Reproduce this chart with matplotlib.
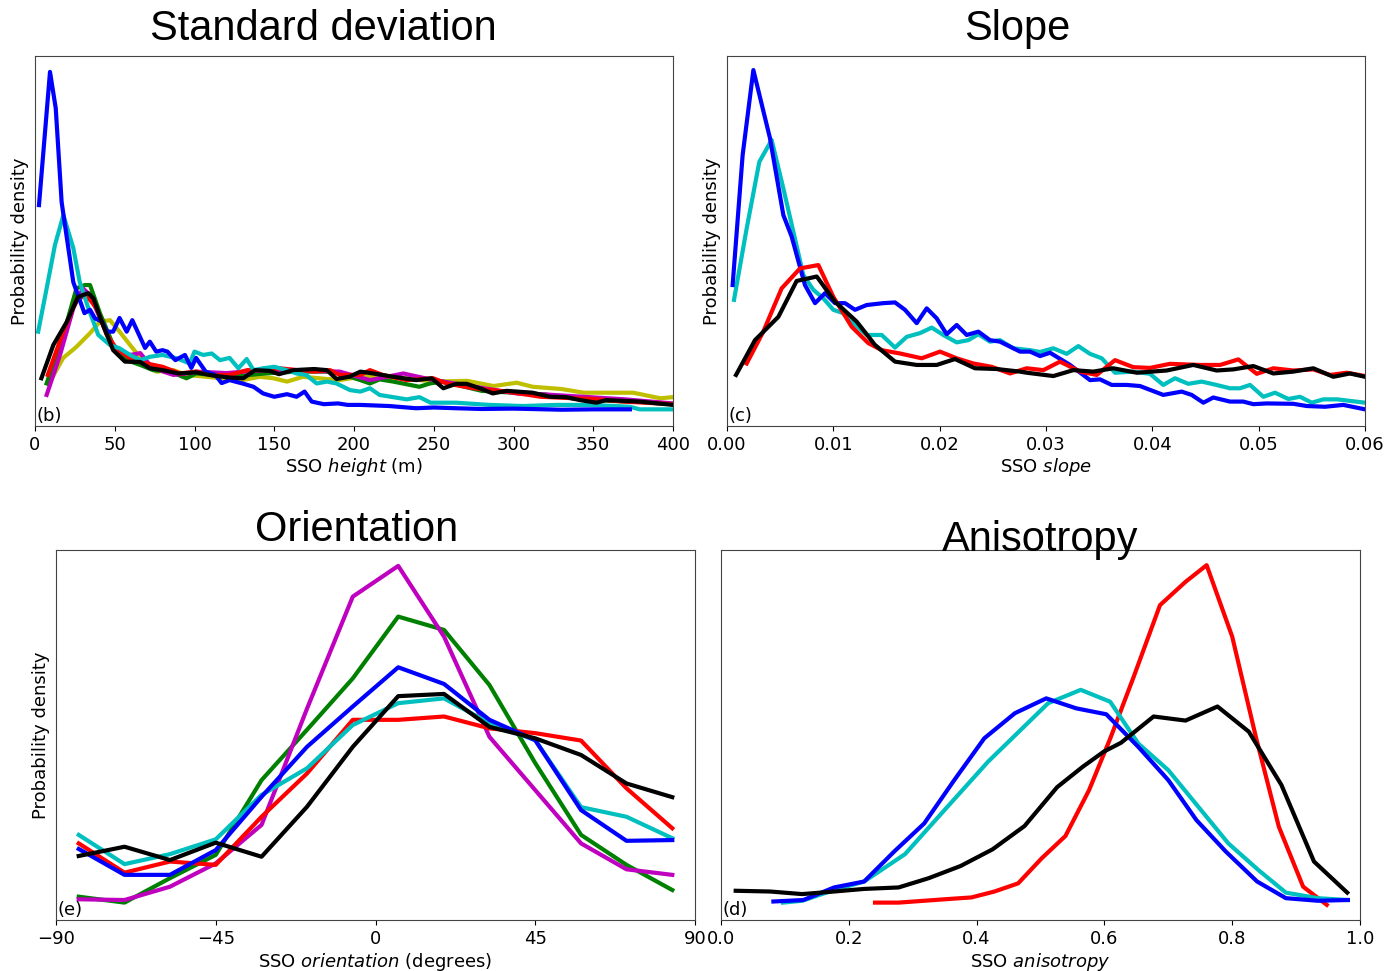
import matplotlib
matplotlib.use("Agg")
import matplotlib.pyplot as plt

# ---------------- Panel (b): Standard deviation ----------------
b_blue_x = [2.5, 9.4, 13, 16.7, 24, 31, 34.5, 37.6, 42, 45, 49, 53, 57.5, 61, 69, 72, 76, 80, 83, 88, 94, 98, 101,
            107, 113, 117, 122, 130, 137, 143, 150, 158, 164, 169, 173.5, 181, 190, 196, 204, 222, 239, 250, 264,
            280, 300, 330, 350, 373]
b_blue_y = [0.597, 0.957, 0.859, 0.605, 0.389, 0.305, 0.314, 0.291, 0.282, 0.255, 0.255, 0.292, 0.255, 0.286,
            0.211, 0.228, 0.201, 0.205, 0.201, 0.178, 0.192, 0.157, 0.184, 0.147, 0.138, 0.116, 0.124, 0.115,
            0.106, 0.088, 0.079, 0.086, 0.079, 0.093, 0.066, 0.059, 0.061, 0.057, 0.057, 0.054, 0.048, 0.050,
            0.048, 0.046, 0.047, 0.044, 0.045, 0.045]

b_cyan_x = [2, 7.3, 12.5, 17.8, 24, 28, 33.4, 39.7, 47, 53, 59.6, 66, 72, 80, 88.8, 97, 100, 105.5, 110.8, 116,
            122, 127.5, 132.7, 137, 143, 150, 157.8, 164, 170, 176.6, 183, 189, 197.5, 204, 210, 216, 233, 241,
            248, 264, 285, 306, 327, 348, 373, 379, 400]
b_cyan_y = [0.255, 0.372, 0.489, 0.570, 0.481, 0.390, 0.319, 0.246, 0.219, 0.210, 0.192, 0.178, 0.187, 0.192,
            0.183, 0.169, 0.201, 0.192, 0.196, 0.178, 0.184, 0.156, 0.181, 0.151, 0.156, 0.160, 0.151, 0.142,
            0.138, 0.115, 0.120, 0.115, 0.097, 0.093, 0.102, 0.084, 0.072, 0.078, 0.063, 0.063, 0.057, 0.054,
            0.057, 0.057, 0.052, 0.045, 0.045]

b_green_x = [7.3, 17.7, 26, 31.3, 34.5, 40.7, 49, 57.5, 66, 74, 84.6, 95, 101, 112, 123, 144, 164, 185, 191, 204,
             210, 216, 224.6, 241, 247.6, 256, 280, 300, 320, 340, 360, 380, 400]
b_green_y = [0.115, 0.246, 0.372, 0.381, 0.381, 0.305, 0.219, 0.178, 0.165, 0.151, 0.147, 0.129, 0.142, 0.138,
             0.133, 0.142, 0.147, 0.147, 0.142, 0.124, 0.115, 0.126, 0.120, 0.106, 0.115, 0.120, 0.095, 0.090,
             0.085, 0.073, 0.068, 0.065, 0.059]

b_magenta_x = [7.3, 15.7, 24, 30, 34.5, 40.7, 49, 59.6, 66, 72, 80.4, 86.8, 95, 101, 120, 140, 160, 180, 191,
               210, 231, 235, 250, 270, 302, 317, 340, 370, 400]
b_magenta_y = [0.084, 0.192, 0.318, 0.372, 0.354, 0.292, 0.211, 0.192, 0.197, 0.165, 0.147, 0.138, 0.142, 0.147,
               0.143, 0.150, 0.152, 0.148, 0.147, 0.124, 0.142, 0.138, 0.124, 0.110, 0.088, 0.086, 0.080, 0.072,
               0.061]

b_red_x = [8, 17.7, 26, 32, 38.7, 45, 51, 59.6, 70, 80, 91, 101, 112, 122, 133, 143, 153.6, 164, 175, 185, 191,
           204, 210, 218, 233, 249.7, 258, 275, 295.7, 317, 337.5, 350, 369, 400]
b_red_y = [0.138, 0.255, 0.341, 0.354, 0.318, 0.246, 0.210, 0.183, 0.169, 0.160, 0.142, 0.147, 0.138, 0.138,
           0.151, 0.151, 0.156, 0.151, 0.147, 0.151, 0.138, 0.138, 0.151, 0.138, 0.124, 0.129, 0.115, 0.102,
           0.093, 0.079, 0.075, 0.073, 0.066, 0.059]

b_yellow_x = [9.4, 17.7, 26, 34.5, 40.7, 47, 53, 59.6, 68, 76, 86.7, 95, 107.6, 117, 130, 141, 149.5, 158, 168,
              178, 191, 204, 212, 230, 250, 271, 287.5, 302, 312, 330, 344, 375, 392, 400]
b_yellow_y = [0.120, 0.184, 0.214, 0.251, 0.282, 0.286, 0.255, 0.219, 0.174, 0.147, 0.151, 0.138, 0.133, 0.129,
              0.124, 0.133, 0.129, 0.120, 0.133, 0.129, 0.124, 0.133, 0.135, 0.130, 0.120, 0.122, 0.108, 0.117,
              0.106, 0.100, 0.090, 0.090, 0.075, 0.078]

b_black_x = [4, 11.5, 20, 27, 33.4, 36.6, 41.8, 49, 56.4, 66, 72, 80, 90, 101, 112, 122, 130.6, 138, 147, 153,
             162, 175, 183, 189, 197, 204, 212, 224.6, 239, 248.7, 256, 264, 270.6, 279, 287, 295.7, 312, 323,
             333, 341.7, 352, 358, 379, 400]
b_black_y = [0.129, 0.219, 0.282, 0.349, 0.359, 0.345, 0.282, 0.205, 0.174, 0.173, 0.156, 0.151, 0.142, 0.145,
             0.136, 0.131, 0.129, 0.151, 0.149, 0.140, 0.151, 0.154, 0.151, 0.127, 0.133, 0.147, 0.142, 0.133,
             0.124, 0.129, 0.102, 0.114, 0.114, 0.102, 0.088, 0.095, 0.090, 0.079, 0.078, 0.070, 0.063, 0.070,
             0.066, 0.057]

# ---------------- Panel (c): Slope ----------------
c_blue_x = [0.00053, 0.00147, 0.00248, 0.00404, 0.0053, 0.00608, 0.00733, 0.00828, 0.00922, 0.01016, 0.0111,
            0.01204, 0.01314, 0.0147, 0.0158, 0.01674, 0.01784, 0.01878, 0.01972, 0.02066, 0.0216, 0.02254,
            0.02364, 0.02473, 0.02567, 0.02756, 0.0285, 0.02944, 0.03038, 0.03226, 0.03414, 0.03508, 0.03618,
            0.03759, 0.03884, 0.04103, 0.04276, 0.0437, 0.0448, 0.04573, 0.0473, 0.04855, 0.0495, 0.05075,
            0.05326, 0.05452, 0.05624, 0.05796, 0.06]
c_blue_y = [0.381, 0.732, 0.962, 0.778, 0.570, 0.512, 0.381, 0.332, 0.359, 0.332, 0.332, 0.314, 0.327, 0.332,
            0.334, 0.314, 0.278, 0.318, 0.291, 0.248, 0.273, 0.246, 0.255, 0.232, 0.228, 0.201, 0.201, 0.189,
            0.198, 0.165, 0.124, 0.126, 0.111, 0.111, 0.108, 0.084, 0.093, 0.084, 0.063, 0.077, 0.066, 0.066,
            0.059, 0.061, 0.060, 0.054, 0.052, 0.057, 0.045]

c_cyan_x = [0.00066, 0.00185, 0.00304, 0.0042, 0.0053, 0.00624, 0.00718, 0.00812, 0.00906, 0.01, 0.01094,
            0.01188, 0.01314, 0.01455, 0.0158, 0.0169, 0.01815, 0.01925, 0.02034, 0.0216, 0.0227, 0.02364,
            0.02473, 0.02567, 0.02693, 0.0285, 0.02944, 0.03069, 0.03195, 0.03304, 0.03414, 0.03524, 0.03649,
            0.03821, 0.03978, 0.04103, 0.04213, 0.04338, 0.04464, 0.04573, 0.0473, 0.04824, 0.04919, 0.05044,
            0.05154, 0.05279, 0.05389, 0.05499, 0.05608, 0.0574, 0.06]
c_cyan_y = [0.341, 0.534, 0.714, 0.773, 0.642, 0.525, 0.408, 0.368, 0.345, 0.314, 0.305, 0.278, 0.246, 0.246,
            0.212, 0.241, 0.251, 0.266, 0.246, 0.226, 0.232, 0.248, 0.228, 0.232, 0.210, 0.205, 0.200, 0.210,
            0.195, 0.216, 0.195, 0.183, 0.144, 0.147, 0.141, 0.111, 0.129, 0.114, 0.120, 0.113, 0.102, 0.102,
            0.111, 0.079, 0.090, 0.073, 0.079, 0.063, 0.072, 0.072, 0.063]

c_red_x = [0.00185, 0.00341, 0.00514, 0.00687, 0.00859, 0.01, 0.01173, 0.01329, 0.01455, 0.01627, 0.01831,
           0.02003, 0.0216, 0.02316, 0.02489, 0.02662, 0.02818, 0.02975, 0.03132, 0.0332, 0.03477, 0.03649,
           0.03821, 0.03978, 0.04166, 0.04448, 0.04637, 0.04809, 0.04982, 0.05138, 0.05326, 0.05514, 0.05671,
           0.05828, 0.06]
c_red_y = [0.169, 0.255, 0.372, 0.426, 0.435, 0.349, 0.268, 0.224, 0.205, 0.196, 0.183, 0.201, 0.183, 0.169,
           0.160, 0.142, 0.156, 0.151, 0.174, 0.147, 0.138, 0.178, 0.159, 0.157, 0.168, 0.165, 0.165, 0.180,
           0.141, 0.156, 0.150, 0.153, 0.138, 0.144, 0.135]

c_black_x = [0.00085, 0.00263, 0.00483, 0.00655, 0.00844, 0.01016, 0.0122, 0.01392, 0.0158, 0.01784, 0.01972,
             0.02144, 0.02332, 0.02536, 0.02756, 0.02818, 0.03069, 0.03257, 0.03445, 0.03633, 0.03853, 0.04135,
             0.04385, 0.04605, 0.04762, 0.0495, 0.05138, 0.05326, 0.05514, 0.05702, 0.05859, 0.06]
c_black_y = [0.138, 0.232, 0.295, 0.392, 0.404, 0.336, 0.282, 0.219, 0.174, 0.165, 0.165, 0.181, 0.156, 0.154,
             0.147, 0.144, 0.135, 0.151, 0.147, 0.156, 0.144, 0.150, 0.165, 0.150, 0.153, 0.162, 0.142, 0.147,
             0.156, 0.133, 0.142, 0.133]

# ---------------- Panel (e): Orientation ----------------
e_x = [-83.6, -70.7, -57.9, -45.0, -32.1, -19.3, -6.4, 6.4, 19.3, 32.1, 45.0, 57.9, 70.7, 83.6]
e_magenta = [0.056, 0.054, 0.090, 0.153, 0.257, 0.571, 0.874, 0.957, 0.766, 0.495, 0.351, 0.207, 0.137, 0.122]
e_green = [0.063, 0.047, 0.113, 0.176, 0.378, 0.514, 0.653, 0.820, 0.784, 0.635, 0.424, 0.230, 0.149, 0.081]
e_blue = [0.192, 0.122, 0.122, 0.189, 0.333, 0.468, 0.577, 0.683, 0.638, 0.541, 0.486, 0.297, 0.214, 0.216]
e_cyan = [0.230, 0.151, 0.178, 0.218, 0.338, 0.410, 0.527, 0.586, 0.599, 0.532, 0.486, 0.305, 0.279, 0.221]
e_red = [0.207, 0.128, 0.158, 0.149, 0.279, 0.396, 0.541, 0.541, 0.550, 0.518, 0.505, 0.485, 0.356, 0.248]
e_black = [0.173, 0.198, 0.162, 0.209, 0.171, 0.306, 0.468, 0.605, 0.611, 0.522, 0.491, 0.446, 0.369, 0.332]

# ---------------- Panel (d): Anisotropy ----------------
d_red_x = [0.241, 0.278, 0.318, 0.358, 0.392, 0.428, 0.465, 0.502, 0.539, 0.576, 0.609, 0.646, 0.687, 0.727,
           0.760, 0.800, 0.837, 0.873, 0.911, 0.948]
d_red_y = [0.047, 0.047, 0.052, 0.057, 0.061, 0.077, 0.099, 0.167, 0.227, 0.351, 0.490, 0.658, 0.851, 0.914,
           0.959, 0.766, 0.495, 0.252, 0.090, 0.041]

d_blue_x = [0.082, 0.129, 0.177, 0.224, 0.271, 0.318, 0.365, 0.412, 0.460, 0.509, 0.556, 0.603, 0.653, 0.700,
            0.744, 0.790, 0.839, 0.884, 0.934, 0.981]
d_blue_y = [0.050, 0.054, 0.088, 0.104, 0.185, 0.261, 0.378, 0.491, 0.559, 0.599, 0.572, 0.556, 0.468, 0.378,
            0.270, 0.185, 0.104, 0.059, 0.052, 0.054]

d_cyan_x = [0.097, 0.127, 0.177, 0.224, 0.288, 0.345, 0.418, 0.512, 0.563, 0.609, 0.653, 0.700, 0.747, 0.794,
            0.841, 0.884, 0.934, 0.981]
d_cyan_y = [0.047, 0.052, 0.081, 0.104, 0.178, 0.288, 0.428, 0.586, 0.622, 0.590, 0.477, 0.405, 0.306, 0.207,
            0.135, 0.074, 0.059, 0.054]

d_black_x = [0.023, 0.077, 0.127, 0.177, 0.224, 0.278, 0.325, 0.375, 0.425, 0.475, 0.526, 0.566, 0.599, 0.626,
             0.677, 0.727, 0.777, 0.826, 0.877, 0.928, 0.980]
d_black_y = [0.079, 0.077, 0.070, 0.077, 0.084, 0.088, 0.113, 0.146, 0.191, 0.254, 0.359, 0.414, 0.455, 0.479,
             0.550, 0.539, 0.577, 0.509, 0.365, 0.158, 0.074]

# ---------------- Figure ----------------
W, H = 1395, 971
fig = plt.figure(figsize=(W / 100, H / 100), dpi=100)


def add_axes(l, t, r, b):
    return fig.add_axes([l / W, 1 - b / H, (r - l) / W, (b - t) / H])


ax_b = add_axes(35, 56, 673, 426)
ax_c = add_axes(727, 56, 1365, 426)
ax_e = add_axes(56, 550, 695, 920)
ax_d = add_axes(721, 550, 1360, 920)

LW = 3.0
FS = 13

ax_b.plot(b_yellow_x, b_yellow_y, color='y', lw=LW)
ax_b.plot(b_green_x, b_green_y, color='g', lw=LW)
ax_b.plot(b_magenta_x, b_magenta_y, color='m', lw=LW)
ax_b.plot(b_red_x, b_red_y, color='r', lw=LW)
ax_b.plot(b_cyan_x, b_cyan_y, color='c', lw=LW)
ax_b.plot(b_blue_x, b_blue_y, color='b', lw=LW)
ax_b.plot(b_black_x, b_black_y, color='k', lw=LW)
ax_b.set_xlim(0, 400)
ax_b.set_xticks([0, 50, 100, 150, 200, 250, 300, 350, 400])
ax_b.set_xlabel('SSO $\\mathit{height}$ (m)', fontsize=FS, labelpad=2)
ax_b.set_ylabel('Probability density', fontsize=FS, labelpad=4)

ax_c.plot(c_cyan_x, c_cyan_y, color='c', lw=LW)
ax_c.plot(c_blue_x, c_blue_y, color='b', lw=LW)
ax_c.plot(c_red_x, c_red_y, color='r', lw=LW)
ax_c.plot(c_black_x, c_black_y, color='k', lw=LW)
ax_c.set_xlim(0, 0.06)
ax_c.set_xticks([0, 0.01, 0.02, 0.03, 0.04, 0.05, 0.06])
ax_c.set_xticklabels(['0.00', '0.01', '0.02', '0.03', '0.04', '0.05', '0.06'])
ax_c.set_xlabel('SSO $\\mathit{slope}$', fontsize=FS, labelpad=2)
ax_c.set_ylabel('Probability density', fontsize=FS, labelpad=4)

ax_e.plot(e_x, e_green, color='g', lw=LW)
ax_e.plot(e_x, e_magenta, color='m', lw=LW)
ax_e.plot(e_x, e_red, color='r', lw=LW)
ax_e.plot(e_x, e_cyan, color='c', lw=LW)
ax_e.plot(e_x, e_blue, color='b', lw=LW)
ax_e.plot(e_x, e_black, color='k', lw=LW)
ax_e.set_xlim(-90, 90)
ax_e.set_xticks([-90, -45, 0, 45, 90])
ax_e.set_xlabel('SSO $\\mathit{orientation}$ (degrees)', fontsize=FS, labelpad=2)
ax_e.set_ylabel('Probability density', fontsize=FS, labelpad=4)

ax_d.plot(d_red_x, d_red_y, color='r', lw=LW)
ax_d.plot(d_cyan_x, d_cyan_y, color='c', lw=LW)
ax_d.plot(d_blue_x, d_blue_y, color='b', lw=LW)
ax_d.plot(d_black_x, d_black_y, color='k', lw=LW)
ax_d.set_xlim(0, 1.0)
ax_d.set_xticks([0, 0.2, 0.4, 0.6, 0.8, 1.0])
ax_d.set_xlabel('SSO $\\mathit{anisotropy}$', fontsize=FS, labelpad=2)

for ax, lab in [(ax_b, '(b)'), (ax_c, '(c)'), (ax_e, '(e)'), (ax_d, '(d)')]:
    ax.set_ylim(0, 1)
    ax.set_yticks([])
    ax.tick_params(axis='x', labelsize=FS, length=3.5, width=0.8)
    for s in ax.spines.values():
        s.set_linewidth(0.8)
        s.set_color('#444444')
    ax.text(0.003, 0.004, lab, transform=ax.transAxes, ha='left', va='bottom', fontsize=FS)

TFS = 30
fig.text(323 / W, 1 - 40 / H, 'Standard deviation', ha='center', va='baseline', fontsize=TFS,
         family='Liberation Sans')
fig.text(1017 / W, 1 - 40 / H, 'Slope', ha='center', va='baseline', fontsize=TFS, family='Liberation Sans')
fig.text(357 / W, 1 - 541 / H, 'Orientation', ha='center', va='baseline', fontsize=TFS, family='Liberation Sans')
fig.text(1040 / W, 1 - 551 / H, 'Anisotropy', ha='center', va='baseline', fontsize=TFS, family='Liberation Sans')

fig.savefig('out.png', dpi=100)
